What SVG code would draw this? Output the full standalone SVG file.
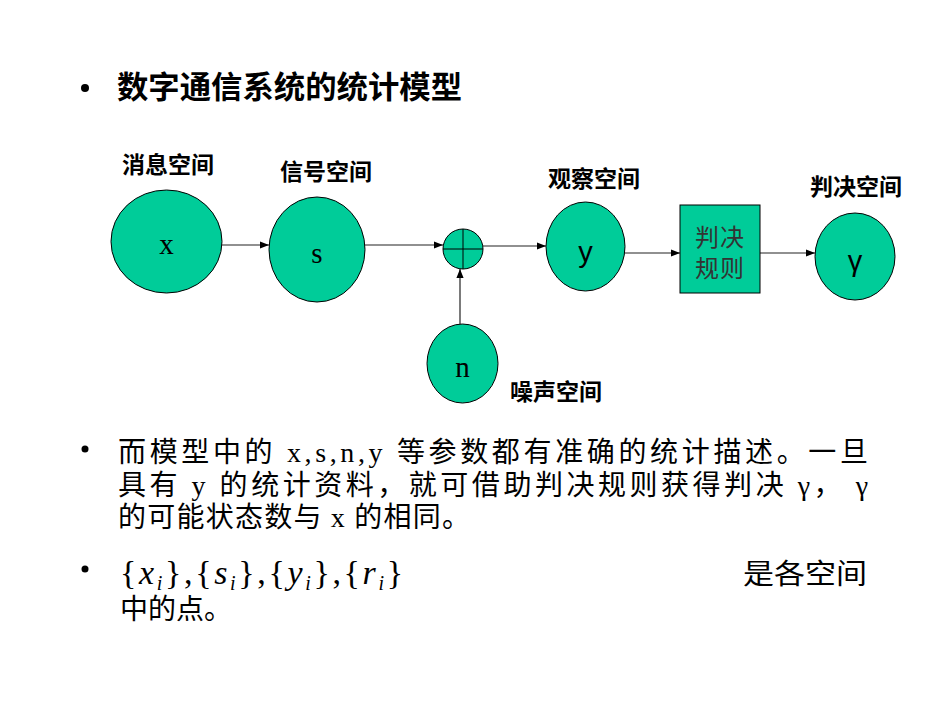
<svg xmlns="http://www.w3.org/2000/svg" width="950" height="713" viewBox="0 0 950 713">
<style>
.node{fill:#00CC99;stroke:#000;stroke-width:1}
.lbl{font-family:"Liberation Sans","Noto Sans CJK SC",sans-serif;font-weight:bold;font-size:23px;fill:#000}
.tm{font-family:"Liberation Serif","Noto Sans CJK SC",serif;font-size:29px;fill:#000}
.sn{font-family:"Liberation Sans","Noto Sans CJK SC",sans-serif;font-size:29px;fill:#000}
.body{font-family:"Liberation Serif","Noto Sans CJK SC",serif;font-size:28px;fill:#000}
.conn{stroke:#222;stroke-width:1.2;fill:none;marker-end:url(#ah)}
</style>
<defs>
<marker id="ah" viewBox="0 0 10 10" refX="10" refY="5" markerWidth="9" markerHeight="9" markerUnits="userSpaceOnUse" orient="auto">
<path d="M0,1 L10,5 L0,9 z" fill="#000"/>
</marker>
</defs>
<rect width="950" height="713" fill="#fff"/>
<g id="title">
<circle cx="85" cy="88" r="4" fill="#000"/>
<text x="117" y="98" font-family="Liberation Sans,Noto Sans CJK SC,sans-serif" font-weight="bold" font-size="31" textLength="345" lengthAdjust="spacingAndGlyphs">数字通信系统的统计模型</text>
</g>
<g id="connectors">
<line class="conn" x1="222" y1="245" x2="269" y2="245"/>
<line class="conn" x1="365" y1="245" x2="443" y2="245"/>
<line class="conn" x1="483" y1="246" x2="546" y2="246"/>
<line class="conn" x1="460" y1="324" x2="460" y2="269"/>
<line class="conn" x1="625" y1="253" x2="680" y2="253"/>
<line class="conn" x1="760" y1="253" x2="815" y2="253"/>
</g>
<g id="node-x">
<ellipse class="node" cx="166.5" cy="241.5" rx="55.5" ry="51.5"/>
<text class="tm" x="166.5" y="254" text-anchor="middle">x</text>
<text class="lbl" x="122" y="173">消息空间</text>
</g>
<g id="node-s">
<ellipse class="node" cx="317" cy="249.5" rx="48" ry="52.5"/>
<text class="tm" x="317" y="263" text-anchor="middle">s</text>
<text class="lbl" x="280" y="180">信号空间</text>
</g>
<g id="node-adder">
<circle class="node" cx="463" cy="249" r="20"/>
<line x1="443" y1="249" x2="483" y2="249" stroke="#000" stroke-width="1"/>
<line x1="463" y1="229" x2="463" y2="269" stroke="#000" stroke-width="1"/>
</g>
<g id="node-n">
<ellipse class="node" cx="462.5" cy="363.5" rx="35.5" ry="39.5"/>
<text class="tm" x="462.5" y="377" text-anchor="middle">n</text>
<text class="lbl" x="510" y="400">噪声空间</text>
</g>
<g id="node-y">
<ellipse class="node" cx="585.5" cy="246.5" rx="39.5" ry="44.5"/>
<text class="sn" x="585.5" y="262" text-anchor="middle">y</text>
<text class="lbl" x="548" y="187">观察空间</text>
</g>
<g id="node-rule">
<rect class="node" x="680" y="205" width="80" height="88"/>
<text x="720" y="246" text-anchor="middle" font-family="Liberation Sans,Noto Sans CJK SC,sans-serif" font-size="24" fill="#333" letter-spacing="1">判决</text>
<text x="720" y="277" text-anchor="middle" font-family="Liberation Sans,Noto Sans CJK SC,sans-serif" font-size="24" fill="#333" letter-spacing="1">规则</text>
</g>
<g id="node-gamma">
<ellipse class="node" cx="855" cy="256.5" rx="40" ry="43.5"/>
<text class="sn" x="855" y="271" text-anchor="middle">γ</text>
<text class="lbl" x="810" y="195">判决空间</text>
</g>
<g id="text-body">
<circle cx="85" cy="449" r="3.5" fill="#000"/>
<text class="body" x="118" y="462" textLength="750" lengthAdjust="spacing">而模型中的 x,s,n,y 等参数都有准确的统计描述。一旦</text>
<text class="body" x="118" y="495" textLength="750" lengthAdjust="spacing">具有 y 的统计资料，就可借助判决规则获得判决 γ， γ</text>
<text class="body" x="118" y="527" textLength="352" lengthAdjust="spacing">的可能状态数与 x 的相同。</text>
<circle cx="85" cy="569" r="3.5" fill="#000"/>
<text x="120" y="584" font-family="Liberation Serif,serif" font-size="34" textLength="283" lengthAdjust="spacing">{<tspan font-style="italic">x</tspan><tspan font-style="italic" font-size="20" dy="6">i</tspan><tspan dy="-6">},{</tspan><tspan font-style="italic">s</tspan><tspan font-style="italic" font-size="20" dy="6">i</tspan><tspan dy="-6">},{</tspan><tspan font-style="italic">y</tspan><tspan font-style="italic" font-size="20" dy="6">i</tspan><tspan dy="-6">},{</tspan><tspan font-style="italic">r</tspan><tspan font-style="italic" font-size="20" dy="6">i</tspan><tspan dy="-6">}</tspan></text>
<text class="body" x="743" y="584" font-size="30" textLength="124" lengthAdjust="spacingAndGlyphs">是各空间</text>
<text class="body" x="120" y="619" font-size="29">中的点。</text>
</g>
</svg>
